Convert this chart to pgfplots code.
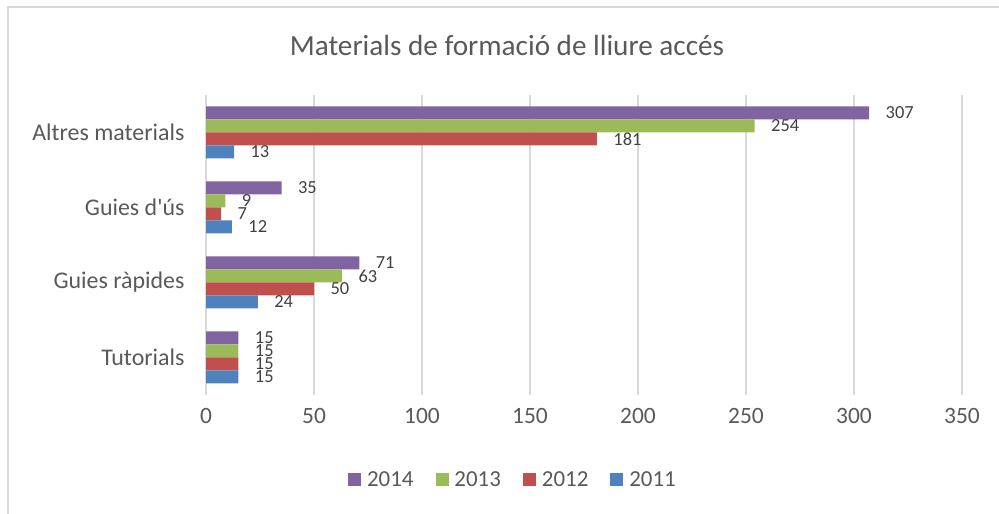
\documentclass[border=0pt]{standalone}
\usepackage{pgfplots}
\pgfplotsset{compat=1.18}
\usepackage{fontspec}
\setmainfont{Carlito}[Ligatures=TeXOff]
\definecolor{c11}{HTML}{4F81BD}
\definecolor{c12}{HTML}{C0504D}
\definecolor{c13}{HTML}{9BBB59}
\definecolor{c14}{HTML}{8064A2}
\definecolor{textgray}{HTML}{595959}
\definecolor{labgray}{HTML}{404040}
\definecolor{gridgray}{HTML}{D9D9D9}
\begin{document}
\begin{tikzpicture}[x=1bp,y=1bp]
\path[use as bounding box] (0,0) rectangle (999,514);
\draw[color=gridgray, line width=1.5bp] (8,0) -- (8,507) -- (999,507);
\node[font=\fontsize{29.3}{33}\selectfont, text=textgray] at (507,469) {Materials de formació de lliure accés};
\begin{axis}[
  at={(206bp,119bp)}, anchor=south west,
  scale only axis, width=756bp, height=300bp,
  xmin=0, xmax=350, ymin=-0.5, ymax=3.5,
  xtick={0,50,...,350},
  ytick={0,1,2,3},
  yticklabels={Tutorials,Guies ràpides,Guies d'ús,Altres materials\hspace{5.5bp}},
  axis line style={draw=none},
  major tick length=0pt,
  xmajorgrids,
  grid style={gridgray, line width=1.5bp},
  xbar, bar width=13bp,
  /pgf/number format/assume math mode=true,
  xticklabel style={font=\fontsize{23.5}{26}\selectfont, text=textgray, yshift=-10bp},
  yticklabel style={font=\fontsize{24}{27}\selectfont, text=textgray, xshift=-18bp},
  nodes near coords,
  every node near coord/.append style={font=\fontsize{18.5}{20}\selectfont, text=labgray, anchor=west, xshift=13bp},
  legend columns=4,
  legend style={draw=none, at={(0.406,-0.283)}, anchor=center, font=\fontsize{23}{26}\selectfont, text=textgray,
    /tikz/every even column/.append style={column sep=20bp},
    /tikz/every odd column/.append style={column sep=4bp}},
  legend image code/.code={\path[#1,draw=none] (0bp,-6.5bp) rectangle (13bp,6.5bp);},
]
\addplot[fill=c14, draw=none, bar shift=19.5bp] coordinates {(15,0) (71,1) (35,2) (307,3)};
\addplot[fill=c13, draw=none, bar shift=6.5bp] coordinates {(15,0) (63,1) (9,2) (254,3)};
\addplot[fill=c12, draw=none, bar shift=-6.5bp] coordinates {(15,0) (50,1) (7,2) (181,3)};
\addplot[fill=c11, draw=none, bar shift=-19.5bp] coordinates {(15,0) (24,1) (12,2) (13,3)};
\legend{2014,2013,2012,2011}
\end{axis}
\end{tikzpicture}
\end{document}
